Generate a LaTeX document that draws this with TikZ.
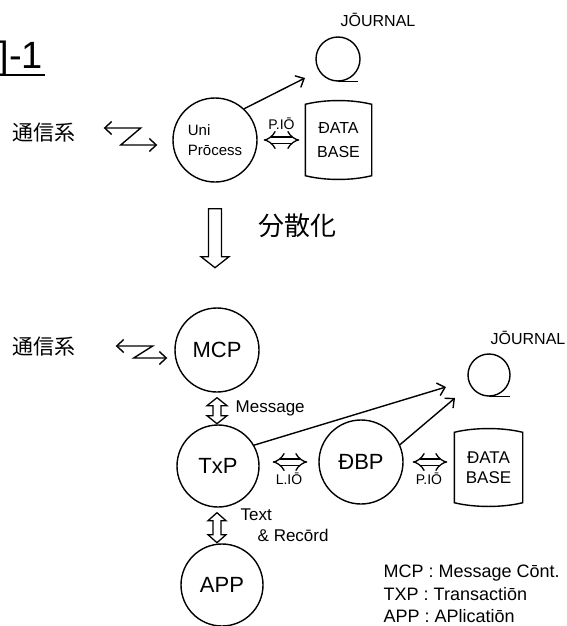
\documentclass[tikz,border=0pt]{standalone}
\usepackage{fontspec}
\setmainfont{Liberation Sans}
\newfontfamily\cjk{Noto Sans CJK JP}
\usetikzlibrary{arrows.meta,calc}
\begin{document}
\begin{tikzpicture}[x=1pt,y=-1pt, line width=1.4pt,
  circ/.style={circle, draw, minimum size=84pt, inner sep=0pt, font=\fontsize{22}{24}\selectfont},
  jc/.style={circle, draw, minimum size=44pt, inner sep=0pt},
  lbl/.style={inner sep=0pt},
  arr/.style={-{Straight Barb[length=7pt,width=13pt]}},
  zig/.style={{Straight Barb[length=7pt,width=13pt]}-{Straight Barb[length=7pt,width=13pt]}},
  dbl/.style={double, double distance=5pt, line width=1.3pt, {Implies}-{Implies}},
  hol/.style={line width=1.3pt, fill=white, line join=miter},
  dbbox/.style={minimum width=65pt, minimum height=80pt, inner sep=0pt, align=center, font=\fontsize{16}{24}\selectfont}]
\useasboundingbox (0,0) rectangle (567,626);

% title
\node[lbl, anchor=base west, font=\fontsize{38}{40}\selectfont] (title) at (-2,68) {]-1};
\draw[line width=1.8pt] (0,75) -- (45,75);

% ---------- top part ----------
\node[lbl, font=\cjk\fontsize{21}{24}\selectfont] (comm1) at (44,133) {通信系};
\node[circ, font=\fontsize{15}{20}\selectfont, align=left] (uni) at (215,140) {Uni\\Prōcess};
\node[jc] (j1) at (338,59) {};
\draw (j1.south) -- ++(20,0);
\node[lbl, font=\fontsize{16}{18}\selectfont] (jl1) at (378,20) {JŌURNAL};
\node[dbbox] (db1) at (338.5,140) {ĐATA\\BASE};
\draw ([yshift=-5pt]db1.north west) .. controls ([xshift=20pt]db1.north west) and ([xshift=-20pt]db1.north east) .. ([yshift=-5pt]db1.north east)
  -- ([yshift=5pt]db1.south east) .. controls ([xshift=-20pt]db1.south east) and ([xshift=20pt]db1.south west) .. ([yshift=5pt]db1.south west) -- cycle;

\draw[zig] ($(comm1.east)+(27.5,-5)$) -- ++(37,0) -- ++(-20,17) -- ($(uni.west)+(-15,5)$);
\draw[arr] (uni.47) -- ($(j1)+(-33,19)$);
\draw[dbl, shorten <=6pt, shorten >=6pt] (uni.east |- db1.west) -- (db1.west)
  node[midway, above=10pt, lbl, font=\fontsize{14}{15}\selectfont] (pio1) {P.IŌ};

% big hollow arrow
\draw[hol] ($(uni.south)+(-6.5,26)$) -- ++(13,0) -- ++(0,48) -- ++(7.5,0) -- ++(-14,11) -- ++(-14,-11) -- ++(7.5,0) -- cycle;
\node[lbl, font=\cjk\fontsize{26}{28}\selectfont] (bunsan) at (297,226) {分散化};

% ---------- bottom part ----------
\node[lbl, font=\cjk\fontsize{21}{24}\selectfont] (comm2) at (44,347) {通信系};
\node[circ] (mcp) at (217,350) {MCP};
\node[circ, minimum size=82pt] (txp) at (218,466) {TxP};
\node[circ] (dbp) at (361,462) {ĐBP};
\node[circ, minimum size=82pt] (app) at (222,585) {APP};
\node[jc, minimum size=42pt] (j2) at (489,375) {};
\draw (j2.south) -- ++(21,0);
\node[lbl, font=\fontsize{16}{18}\selectfont] (jl2) at (528,338) {JŌURNAL};
\node[dbbox, minimum width=67pt, minimum height=79pt, font=\fontsize{17}{20}\selectfont] (db2) at (488.5,467.5) {ĐATA\\BASE};
\draw ([yshift=-5pt]db2.north west) .. controls ([xshift=20pt]db2.north west) and ([xshift=-20pt]db2.north east) .. ([yshift=-5pt]db2.north east)
  -- ([yshift=5pt]db2.south east) .. controls ([xshift=-20pt]db2.south east) and ([xshift=20pt]db2.south west) .. ([yshift=5pt]db2.south west) -- cycle;

\draw[zig] ($(comm2.east)+(39.5,-1)$) -- ++(37,0) -- ++(-19,12) -- ($(mcp.west)+(-7,8)$);

% MCP <=> TxP
\draw[hol] ($(mcp.south)+(0,5)$) -- ++(10,8) -- ++(-6,0) -- ++(0,10) -- ++(6,0) -- ++(-10,8) -- ++(-10,-8) -- ++(6,0) -- ++(0,-10) -- ++(-6,0) -- cycle;
\node[lbl, anchor=west, font=\fontsize{17}{18}\selectfont] (msg) at (235,408) {Message};

% TxP <=> APP
\draw[hol] ($(txp.south)+(-1,5)$) -- ++(9,8) -- ++(-5,0) -- ++(0,14) -- ++(5,0) -- ++(-9,8) -- ++(-9,-8) -- ++(5,0) -- ++(0,-14) -- ++(-5,0) -- cycle;
\node[lbl, anchor=west, font=\fontsize{17}{18}\selectfont] (txt) at (240,515) {Text};
\node[lbl, anchor=west, font=\fontsize{17}{18}\selectfont] (rec) at (257,535) {\& Recōrd};

% TxP -> Journal, DBP -> Journal
\draw[arr] (txp.30) -- ($(j2)+(-43,12)$);
\draw[arr] (dbp.24) -- ($(j2)+(-34,23)$);

% L.IO and P.IO
\draw[dbl, shorten <=13pt, shorten >=11pt] (txp.east |- dbp.west) -- (dbp.west)
  node[midway, below=10pt, lbl, font=\fontsize{14}{15}\selectfont] (lio) {L.IŌ};
\draw[dbl, shorten <=9pt, shorten >=7pt] (dbp.east) -- (dbp.east -| db2.west)
  node[midway, below=10pt, lbl, font=\fontsize{14}{15}\selectfont] (pio2) {P.IŌ};

% legend
\node[lbl, anchor=base west, font=\fontsize{18}{20}\selectfont] (leg1) at (383,577) {MCP : Message Cōnt.};
\node[lbl, anchor=base west, font=\fontsize{18}{20}\selectfont] (leg2) at (383,600) {TXP : Transactiōn};
\node[lbl, anchor=base west, font=\fontsize{18}{20}\selectfont] (leg3) at (383,622) {APP : APlicatiōn};
\end{tikzpicture}
\end{document}
